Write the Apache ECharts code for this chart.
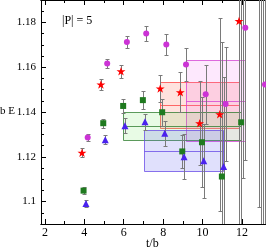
<!DOCTYPE html>
<html><head><meta charset="utf-8">
<script src="https://cdn.jsdelivr.net/npm/echarts@6/dist/echarts.min.js"></script>
<style>html,body{margin:0;padding:0;background:#fff}#c{width:266px;height:250px}</style>
</head><body><div id="c"></div>
<script>
// ---- data ----
const redT   = [3.88, 4.84, 5.86, 7.85, 8.87, 9.85, 10.87, 11.85];
const redE   = [1.1218, 1.1523, 1.1582, 1.1505, 1.1488, 1.1350, 1.1390, 1.1806];
const redErr = [0.0020, 0.0024, 0.0029, 0.0060, 0.0090, 0.0188, 0.0430, 0.1200];

const magT   = [4.17, 5.16, 6.16, 7.14, 8.16, 9.16, 10.16, 11.17, 12.17, 13.17];
const magE   = [1.1286, 1.1616, 1.1713, 1.1750, 1.1701, 1.1612, 1.1479, 1.1436, 1.1776, 1.1523];
const magErr = [0.0015, 0.0020, 0.0028, 0.0033, 0.0047, 0.0074, 0.0133, 0.0255, 0.0590, 0.1200];

const grnT   = [3.96, 4.96, 5.97, 6.97, 7.95, 8.97, 9.97, 10.98, 11.96];
const grnE   = [1.1049, 1.1350, 1.1427, 1.1453, 1.1399, 1.1224, 1.1265, 1.1112, 1.1354];
const grnErr = [0.0015, 0.0020, 0.0030, 0.0040, 0.0060, 0.0075, 0.0200, 0.0600, 0.1200];

const bluT   = [4.08, 5.06, 6.06, 7.08, 8.08, 9.06, 10.06, 11.07];
const bluE   = [1.0992, 1.1276, 1.1339, 1.1357, 1.1305, 1.1200, 1.1182, 1.1157];
const bluErr = [0.0015, 0.0020, 0.0032, 0.0036, 0.0056, 0.0100, 0.0164, 0.0400];

// error bars whose centres lie outside the plotted range: [t, low, high]
const offBars = [[12.07, 1.1107, 1.25], [12.85, 1.0978, 1.25], [12.97, 1.05, 1.25], [13.07, 1.05, 1.25]];

// fit bands: [tStart, tEnd, centre, halfWidth]
const redBand = [7.85, 11.85, 1.1431, 0.0102];
const magBand = [9.16, 12.15, 1.1450, 0.0181];
const grnBand = [5.95, 11.97, 1.1338, 0.0063];
const bluBand = [7.05, 11.06, 1.1228, 0.0091];

const xMajor = [2, 4, 6, 8, 10, 12];
const yMajor = [1.10, 1.12, 1.14, 1.16, 1.18];
const xMinor = [2,3,4,5,6,7,8,9,10,11,12,13];
const yMinor = [1.095,1.10,1.105,1.11,1.115,1.12,1.125,1.13,1.135,1.14,1.145,1.15,1.155,1.16,1.165,1.17,1.175,1.18,1.185];

// ---- chart ----
const FONT = '"Liberation Serif", "DejaVu Serif", serif';
const chart = echarts.init(document.getElementById('c'), null, {renderer: 'canvas'});
const XMIN = 1.8, XMAX = 13.22, YMIN = 1.09, YMAX = 1.19;

function bars(T, E, Er) { return T.map((t, i) => [t, E[i] - Er[i], E[i] + Er[i]]); }
function pts(T, E) { return T.map((t, i) => [t, E[i]]); }
const allBars = [].concat(bars(redT, redE, redErr), bars(magT, magE, magErr),
                          bars(grnT, grnE, grnErr), bars(bluT, bluE, bluErr), offBars);

function bandSeries(b, stroke, fill) {
  return {
    type: 'custom', xAxisIndex: 0, yAxisIndex: 0, clip: true, z: 1, silent: true,
    data: [b],
    renderItem: function (params, api) {
      const t0 = api.value(0), t1 = api.value(1), c = api.value(2), h = api.value(3);
      const pa = api.coord([t0, c + h]), pb = api.coord([t1, c - h]), pc = api.coord([t0, c]);
      const x0 = Math.round(pa[0]) + 0.5, x1 = Math.round(pb[0]) + 0.5;
      const y0 = Math.round(pa[1]) + 0.5, y1 = Math.round(pb[1]) + 0.5, ym = Math.round(pc[1]) + 0.5;
      return {type: 'group', children: [
        {type: 'rect', shape: {x: x0, y: y0, width: x1 - x0, height: y1 - y0},
         style: {fill: fill, stroke: stroke, lineWidth: 1}},
        {type: 'line', shape: {x1: x0, y1: ym, x2: x1, y2: ym}, style: {stroke: stroke, lineWidth: 1}}
      ]};
    }
  };
}

const starPath = 'path://M50,0 L61.8,35.1 L98.9,35.1 L68.9,57.3 L80.3,92.7 L50,70.9 L19.7,92.7 L31.1,57.3 L1.1,35.1 L38.2,35.1 Z';

const axisLine = {show: true, lineStyle: {color: '#000', width: 1}};
function xAx(pos, ticks, len, labels) {
  return {type: 'value', position: pos, min: XMIN, max: XMAX, gridIndex: 0,
    axisLine: axisLine, splitLine: {show: false},
    axisTick: {show: true, inside: true, length: len, customValues: ticks, lineStyle: {color: '#000'}},
    axisLabel: labels ? {show: true, customValues: xMajor, color: '#000', fontFamily: FONT, fontSize: 12, margin: 3,
      formatter: v => String(v)} : {show: false}};
}
function yAx(pos, ticks, len, labels) {
  return {type: 'value', position: pos, min: YMIN, max: YMAX, gridIndex: 0,
    axisLine: axisLine, splitLine: {show: false},
    axisTick: {show: true, inside: true, length: len, customValues: ticks, lineStyle: {color: '#000'}},
    axisLabel: labels ? {show: true, customValues: yMajor, color: '#000', fontFamily: FONT, fontSize: 11, margin: 5,
      formatter: v => String(parseFloat(v.toFixed(2)))} : {show: false}};
}

chart.setOption({
  animation: false,
  backgroundColor: '#fff',
  grid: {left: 41, right: 0, top: 0, bottom: 26, containLabel: false},
  xAxis: [xAx('bottom', xMajor, 5, true), xAx('top', xMajor, 5, false),
          xAx('bottom', xMinor, 3, false), xAx('top', xMinor, 3, false)],
  yAxis: [yAx('left', yMajor, 5, true), yAx('left', yMinor, 3, false)],
  graphic: [
    {type: 'text', left: 0, top: 106, style: {text: 'b E', font: '11px ' + FONT, fill: '#000'}},
    {type: 'text', left: 146, top: 238, style: {text: 't/b', font: '12px ' + FONT, fill: '#000'}},
    {type: 'text', left: 62, top: 15, style: {text: '|P| = 5', font: '12px ' + FONT, fill: '#000'}}
  ],
  series: [
    bandSeries(redBand, 'rgba(255,60,60,0.75)', 'rgba(255,100,80,0.19)'),
    bandSeries(magBand, 'rgba(210,60,210,0.75)', 'rgba(240,100,240,0.15)'),
    bandSeries(grnBand, 'rgba(40,120,40,0.75)', 'rgba(100,230,80,0.15)'),
    bandSeries(bluBand, 'rgba(100,70,230,0.75)', 'rgba(100,100,240,0.2)'),
    {
      type: 'custom', xAxisIndex: 0, yAxisIndex: 0, clip: true, z: 2, silent: true,
      data: allBars,
      renderItem: function (params, api) {
        const t = api.value(0), lo = api.value(1), hi = api.value(2);
        const a = api.coord([t, hi]), b = api.coord([t, lo]);
        const x = Math.round(a[0]) + 0.5, ya = Math.round(a[1]) + 0.5, yb = Math.round(b[1]) + 0.5;
        const st = {stroke: '#7a7a7a', lineWidth: 1};
        return {type: 'group', children: [
          {type: 'line', shape: {x1: x, y1: ya, x2: x, y2: yb}, style: st},
          {type: 'line', shape: {x1: x - 2, y1: ya, x2: x + 2, y2: ya}, style: st},
          {type: 'line', shape: {x1: x - 2, y1: yb, x2: x + 2, y2: yb}, style: st}
        ]};
      }
    },
    {type: 'scatter', data: pts(redT, redE), symbol: starPath, symbolKeepAspect: true, symbolSize: 9,
     itemStyle: {color: '#ff0000', opacity: 1}, z: 3, silent: true},
    {type: 'scatter', data: pts(magT, magE), symbol: 'circle', symbolSize: 6,
     itemStyle: {color: '#cc33d6', opacity: 1}, z: 3, silent: true},
    {type: 'scatter', data: pts(grnT, grnE), symbol: 'rect', symbolSize: 6,
     itemStyle: {color: '#1f7a1f', opacity: 1}, z: 3, silent: true},
    {type: 'scatter', data: pts(bluT, bluE), symbol: 'triangle', symbolSize: 7,
     itemStyle: {color: '#4a22ee', opacity: 1}, z: 3, silent: true}
  ]
});
</script>
</body></html>
